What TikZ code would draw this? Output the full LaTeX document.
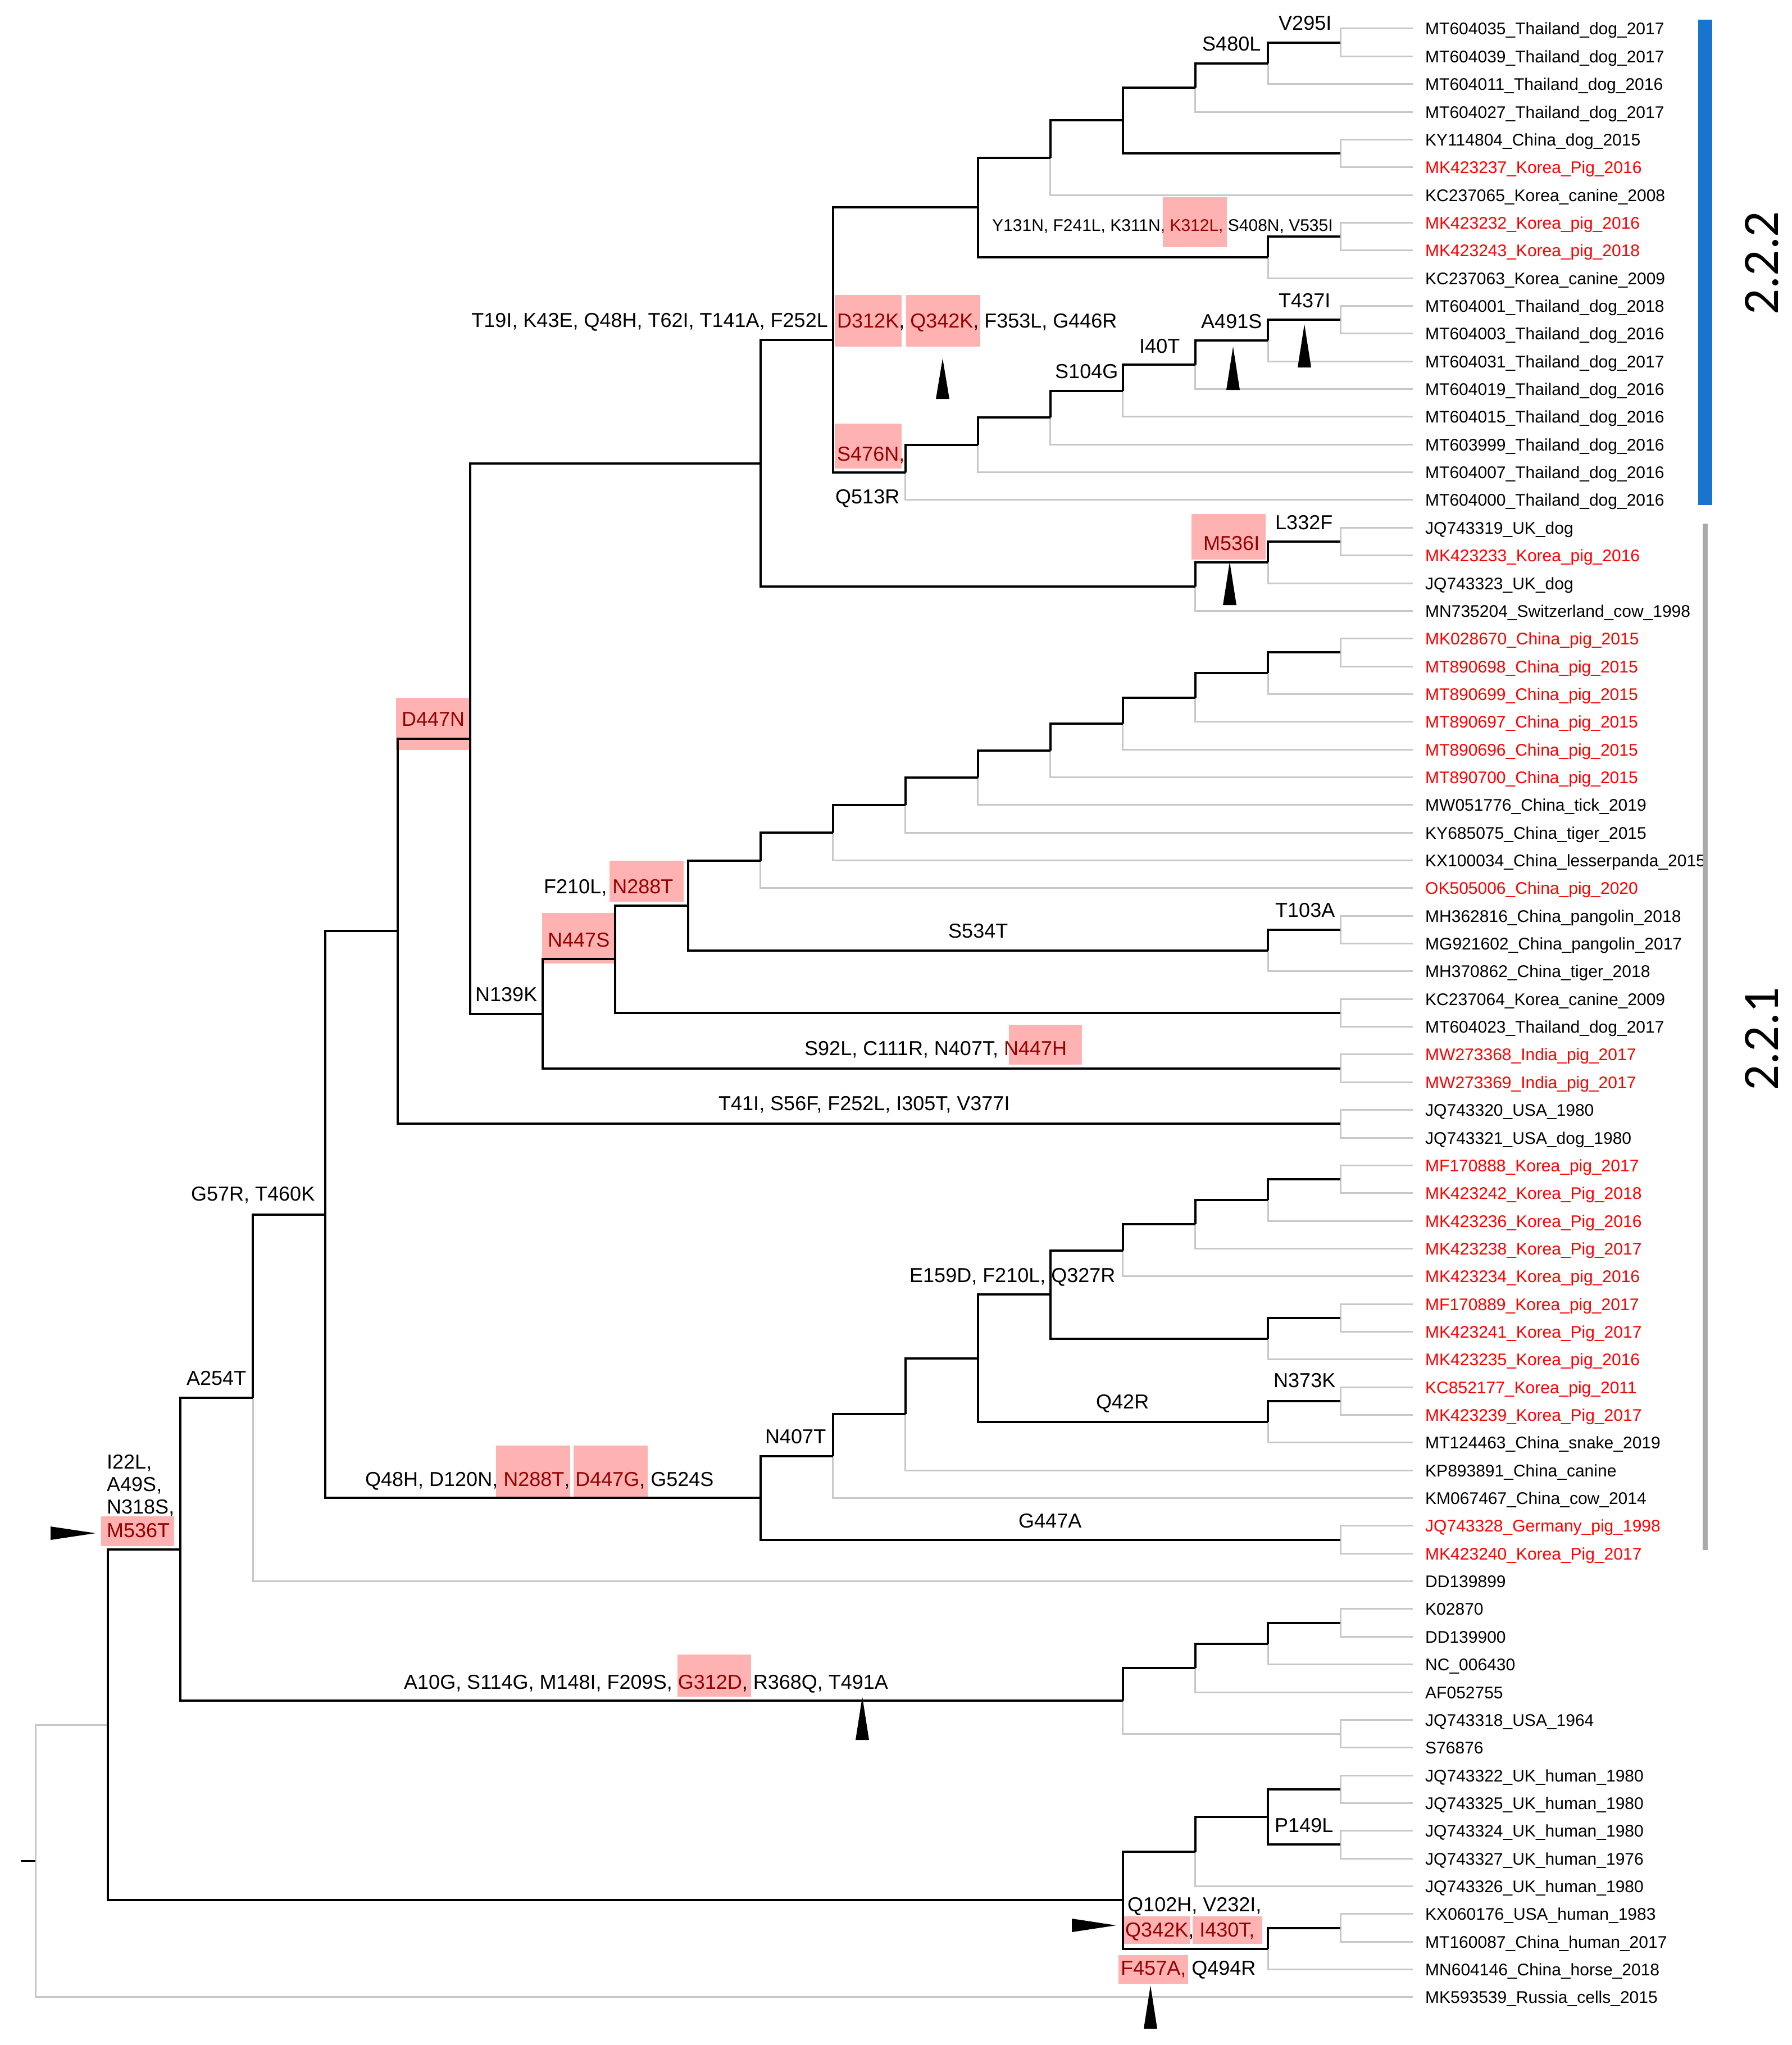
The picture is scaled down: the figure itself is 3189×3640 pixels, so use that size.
\documentclass[tikz,border=0pt]{standalone}
\usepackage{fontspec}
\setmainfont{Liberation Sans}
\newfontfamily\clfont{Carlito}
\usetikzlibrary{calc}
\definecolor{treegray}{RGB}{200,200,200}
\definecolor{hlfill}{RGB}{255,178,178}
\definecolor{hlred}{RGB}{150,0,0}
\definecolor{leafred}{RGB}{255,0,0}
\definecolor{barblue}{RGB}{24,116,205}
\definecolor{bargray}{RGB}{170,170,170}
\newcommand\tn[4]{\coordinate (mid) at ($(#3)!0.5!(#4)$);\coordinate (#1) at (K#2 |- mid);}
\newcommand\uptri[3]{\fill[black] ({#1-12},#3) -- (#1,#2) -- ({#1+12},#3) -- cycle;}
\begin{document}
\begin{tikzpicture}[x=1pt,y=-1pt,
  blk/.style={draw=black,line width=4pt},
  gry/.style={draw=treegray,line width=3pt},
  mut/.style={inner sep=0pt,anchor=base west,font=\fontsize{36}{40}\selectfont},
  mutE/.style={mut,anchor=base east},
  leaf/.style={inner sep=0pt,anchor=base west,font=\fontsize{30}{34}\selectfont}]
\fill[white] (0,0) rectangle (3189,3640);
\useasboundingbox (0,0) rectangle (3189,3640);
% levels and leaves
\foreach \k in {0,...,18} \coordinate (K\k) at ({63+129.06*\k},0);
\foreach \i in {1,...,72} \coordinate (L\i) at (2515,{51+(\i-1)*49.35});
% pairs
\foreach \a/\b in {1/2,5/6,8/9,11/12,19/20,23/24,33/34,36/37,38/39,40/41,42/43,47/48,50/51,55/56,58/59,62/63,64/65,66/67,69/70}
  {\tn{P\a}{18}{L\a}{L\b}}
% top clade
\tn{Ta}{17}{P1}{L3}
\tn{Tb}{16}{Ta}{L4}
\tn{Tc}{15}{Tb}{P5}
\tn{Td}{14}{Tc}{L7}
\tn{Ty}{17}{P8}{L10}
\tn{Te}{13}{Td}{Ty}
\tn{Sa}{17}{P11}{L13}
\tn{Sb}{16}{Sa}{L14}
\tn{Sc}{15}{Sb}{L15}
\tn{Sd}{14}{Sc}{L16}
\tn{Se}{13}{Sd}{L17}
\tn{Sf}{12}{Se}{L18}
\tn{Tf}{11}{Te}{Sf}
\tn{Ca}{17}{P19}{L21}
\tn{Cb}{16}{Ca}{L22}
\tn{Tg}{10}{Tf}{Cb}
% middle clade
\tn{Ma}{17}{P23}{L25}
\tn{Mb}{16}{Ma}{L26}
\tn{Mc}{15}{Mb}{L27}
\tn{Md}{14}{Mc}{L28}
\tn{Me}{13}{Md}{L29}
\tn{Mf}{12}{Me}{L30}
\tn{Mg}{11}{Mf}{L31}
\tn{Mh}{10}{Mg}{L32}
\tn{Mt}{17}{P33}{L35}
\tn{Mi}{9}{Mh}{Mt}
\tn{Mj}{8}{Mi}{P36}
\tn{Mk}{7}{Mj}{P38}
\tn{N6}{6}{Tg}{Mk}
\tn{N5}{5}{N6}{P40}
% Q clade
\tn{Qa}{17}{P42}{L44}
\tn{Qb}{16}{Qa}{L45}
\tn{Qc}{15}{Qb}{L46}
\tn{Qs}{17}{P47}{L49}
\tn{Qd}{14}{Qc}{Qs}
\tn{Qr}{17}{P50}{L52}
\tn{Qe}{13}{Qd}{Qr}
\tn{Qf}{12}{Qe}{L53}
\tn{Qg}{11}{Qf}{L54}
\tn{Qh}{10}{Qg}{P55}
\tn{N4}{4}{N5}{Qh}
\tn{N3}{3}{N4}{L57}
% A clade
\tn{Aa}{17}{P58}{L60}
\tn{Ab}{16}{Aa}{L61}
\tn{Ac}{15}{Ab}{P62}
\tn{N2}{2}{N3}{Ac}
% human clade
\tn{Ha}{17}{P64}{P66}
\tn{Hb}{16}{Ha}{L68}
\tn{Hc}{17}{P69}{L71}
\tn{Hd}{15}{Hb}{Hc}
\tn{N1}{1}{N2}{Hd}
\tn{R0}{0}{N1}{L72}
\coordinate (RS) at ($(R0)+(-26,0)$);
% highlight boxes
\foreach \xa/\ya/\xb/\yb in {2070/351/2184/440,1486/525/1605/617,1613/525/1745/617,1486/754/1605/834,2121/915/2253/996,705/1242/836/1335,1085/1532/1217/1605,965/1625/1094/1715,1796/1824/1926/1895,883/2573/1015/2666,1021/2573/1153/2666,180/2699/310/2752,1206/2945/1337/3020,1997/3411/2119/3460,2123/3411/2247/3460,1991/3480/2115/3531}
  {\fill[hlfill] (\xa,\ya) rectangle (\xb,\yb);}
% gray edges
\foreach \p/\c in {P1/L1,P1/L2,Ta/L3,Tb/L4,P5/L5,P5/L6,Td/L7,P8/L8,P8/L9,Ty/L10,P11/L11,P11/L12,Sa/L13,Sb/L14,Sc/L15,Sd/L16,Se/L17,Sf/L18,P19/L19,P19/L20,Ca/L21,Cb/L22,P23/L23,P23/L24,Ma/L25,Mb/L26,Mc/L27,Md/L28,Me/L29,Mf/L30,Mg/L31,Mh/L32,P33/L33,P33/L34,Mt/L35,P36/L36,P36/L37,P38/L38,P38/L39,P40/L40,P40/L41,P42/L42,P42/L43,Qa/L44,Qb/L45,Qc/L46,P47/L47,P47/L48,Qs/L49,P50/L50,P50/L51,Qr/L52,Qf/L53,Qg/L54,P55/L55,P55/L56,N3/L57,P58/L58,P58/L59,Aa/L60,Ab/L61,Ac/P62,P62/L62,P62/L63,P64/L64,P64/L65,P66/L66,P66/L67,Hb/L68,P69/L69,P69/L70,Hc/L71,R0/L72,R0/N1}
  {\draw[gry] (\p) |- (\c);}
% black edges
\foreach \p/\c in {Ta/P1,Tb/Ta,Tc/Tb,Tc/P5,Td/Tc,Ty/P8,Te/Td,Te/Ty,Sa/P11,Sb/Sa,Sc/Sb,Sd/Sc,Se/Sd,Sf/Se,Tf/Te,Tf/Sf,Ca/P19,Cb/Ca,Tg/Tf,Tg/Cb,Ma/P23,Mb/Ma,Mc/Mb,Md/Mc,Me/Md,Mf/Me,Mg/Mf,Mh/Mg,Mt/P33,Mi/Mh,Mi/Mt,Mj/Mi,Mj/P36,Mk/Mj,Mk/P38,N6/Tg,N6/Mk,N5/N6,N5/P40,Qa/P42,Qb/Qa,Qc/Qb,Qs/P47,Qd/Qc,Qd/Qs,Qr/P50,Qe/Qd,Qe/Qr,Qf/Qe,Qg/Qf,Qh/Qg,Qh/P55,N4/N5,N4/Qh,N3/N4,Aa/P58,Ab/Aa,Ac/Ab,N2/N3,N2/Ac,Ha/P64,Ha/P66,Hb/Ha,Hc/P69,Hd/Hb,Hd/Hc,N1/N2,N1/Hd}
  {\draw[blk] (\p) |- (\c);}
\draw[black,line width=3pt] (RS) -- (R0);
% leaf labels
\foreach \i/\lab/\col in {
1/MT604035\_Thailand\_dog\_2017/black,
2/MT604039\_Thailand\_dog\_2017/black,
3/MT604011\_Thailand\_dog\_2016/black,
4/MT604027\_Thailand\_dog\_2017/black,
5/KY114804\_China\_dog\_2015/black,
6/MK423237\_Korea\_Pig\_2016/leafred,
7/KC237065\_Korea\_canine\_2008/black,
8/MK423232\_Korea\_pig\_2016/leafred,
9/MK423243\_Korea\_pig\_2018/leafred,
10/KC237063\_Korea\_canine\_2009/black,
11/MT604001\_Thailand\_dog\_2018/black,
12/MT604003\_Thailand\_dog\_2016/black,
13/MT604031\_Thailand\_dog\_2017/black,
14/MT604019\_Thailand\_dog\_2016/black,
15/MT604015\_Thailand\_dog\_2016/black,
16/MT603999\_Thailand\_dog\_2016/black,
17/MT604007\_Thailand\_dog\_2016/black,
18/MT604000\_Thailand\_dog\_2016/black,
19/JQ743319\_UK\_dog/black,
20/MK423233\_Korea\_pig\_2016/leafred,
21/JQ743323\_UK\_dog/black,
22/MN735204\_Switzerland\_cow\_1998/black,
23/MK028670\_China\_pig\_2015/leafred,
24/MT890698\_China\_pig\_2015/leafred,
25/MT890699\_China\_pig\_2015/leafred,
26/MT890697\_China\_pig\_2015/leafred,
27/MT890696\_China\_pig\_2015/leafred,
28/MT890700\_China\_pig\_2015/leafred,
29/MW051776\_China\_tick\_2019/black,
30/KY685075\_China\_tiger\_2015/black,
31/KX100034\_China\_lesserpanda\_2015/black,
32/OK505006\_China\_pig\_2020/leafred,
33/MH362816\_China\_pangolin\_2018/black,
34/MG921602\_China\_pangolin\_2017/black,
35/MH370862\_China\_tiger\_2018/black,
36/KC237064\_Korea\_canine\_2009/black,
37/MT604023\_Thailand\_dog\_2017/black,
38/MW273368\_India\_pig\_2017/leafred,
39/MW273369\_India\_pig\_2017/leafred,
40/JQ743320\_USA\_1980/black,
41/JQ743321\_USA\_dog\_1980/black,
42/MF170888\_Korea\_pig\_2017/leafred,
43/MK423242\_Korea\_Pig\_2018/leafred,
44/MK423236\_Korea\_Pig\_2016/leafred,
45/MK423238\_Korea\_Pig\_2017/leafred,
46/MK423234\_Korea\_pig\_2016/leafred,
47/MF170889\_Korea\_pig\_2017/leafred,
48/MK423241\_Korea\_Pig\_2017/leafred,
49/MK423235\_Korea\_pig\_2016/leafred,
50/KC852177\_Korea\_pig\_2011/leafred,
51/MK423239\_Korea\_Pig\_2017/leafred,
52/MT124463\_China\_snake\_2019/black,
53/KP893891\_China\_canine/black,
54/KM067467\_China\_cow\_2014/black,
55/JQ743328\_Germany\_pig\_1998/leafred,
56/MK423240\_Korea\_Pig\_2017/leafred,
57/DD139899/black,
58/K02870/black,
59/DD139900/black,
60/NC\_006430/black,
61/AF052755/black,
62/JQ743318\_USA\_1964/black,
63/S76876/black,
64/JQ743322\_UK\_human\_1980/black,
65/JQ743325\_UK\_human\_1980/black,
66/JQ743324\_UK\_human\_1980/black,
67/JQ743327\_UK\_human\_1976/black,
68/JQ743326\_UK\_human\_1980/black,
69/KX060176\_USA\_human\_1983/black,
70/MT160087\_China\_human\_2017/black,
71/MN604146\_China\_horse\_2018/black,
72/MK593539\_Russia\_cells\_2015/black}
  {\node[leaf,text=\col] (t\i) at ($(L\i)+(22,11)$) {\lab};}
% mutation labels
\node[mut] (m1) at (2276,53) {V295I};
\node[mut] (m2) at (2140,90) {S480L};
\node[mut,font=\fontsize{30}{34}\selectfont] (m3) at (1766,411) {Y131N, F241L, K311N\textcolor{hlred}{, K312L,} S408N, V535I};
\node[mutE] (m4) at (1474,582) {T19I, K43E, Q48H, T62I, T141A, F252L};
\node[mut] (m5) at (1490,583) {\textcolor{hlred}{D312K}, \textcolor{hlred}{Q342K}, F353L, G446R};
\node[mut] (m6) at (1490,820) {\textcolor{hlred}{S476N,}};
\node[mut] (m7) at (1487,896) {Q513R};
\node[mut] (m8) at (1878,673) {S104G};
\node[mut] (m9) at (2028,628) {I40T};
\node[mut] (m10) at (2138,584) {A491S};
\node[mut] (m11) at (2276,547) {T437I};
\node[mut] (m12) at (2142,979) {\textcolor{hlred}{M536I}};
\node[mut] (m13) at (2270,942) {L332F};
\node[mut] (m14) at (715,1292) {\textcolor{hlred}{D447N}};
\node[mut] (m15) at (968,1590) {F210L, \textcolor{hlred}{N288T}};
\node[mut] (m16) at (975,1685) {\textcolor{hlred}{N447S}};
\node[mut] (m17) at (846,1782) {N139K};
\node[mut] (m18) at (1688,1669) {S534T};
\node[mut] (m19) at (2270,1632) {T103A};
\node[mut] (m20) at (1432,1878) {S92L, C111R, N407T, \textcolor{hlred}{N447H}};
\node[mut] (m21) at (1279,1976) {T41I, S56F, F252L, I305T, V377I};
\node[mut] (m22) at (340,2137) {G57R, T460K};
\node[mut] (m23) at (332,2465) {A254T};
\node[mut] (m24) at (650,2645) {Q48H, D120N, \textcolor{hlred}{N288T}, \textcolor{hlred}{D447G}, G524S};
\node[mut] (m25) at (1362,2569) {N407T};
\node[mut] (m26) at (1619,2282) {E159D, F210L, Q327R};
\node[mut] (m27) at (1951,2507) {Q42R};
\node[mut] (m28) at (2267,2469) {N373K};
\node[mut] (m29) at (1813,2719) {G447A};
\node[mut] (m30a) at (190,2614) {I22L,};
\node[mut] (m30b) at (190,2654) {A49S,};
\node[mut] (m30c) at (190,2694) {N318S,};
\node[mut] (m30d) at (190,2736) {\textcolor{hlred}{M536T}};
\node[mut] (m31) at (719,3006) {A10G, S114G, M148I, F209S, \textcolor{hlred}{G312D}, R368Q, T491A};
\node[mut] (m32) at (2007,3402) {Q102H, V232I,};
\node[mut] (m33) at (2003,3447) {\textcolor{hlred}{Q342K}, \textcolor{hlred}{I430T,}};
\node[mut] (m34) at (1995,3515) {\textcolor{hlred}{F457A,} Q494R};
\node[mut] (m35) at (2269,3261) {P149L};
% arrowheads
\uptri{1678}{638}{710}
\uptri{2195}{617}{694}
\uptri{2322}{577}{654}
\uptri{2189}{1000}{1077}
\uptri{1535}{3020}{3097}
\uptri{2048}{3534}{3611}
\fill[black] (90,2717) -- (170,2729) -- (90,2741) -- cycle;
\fill[black] (1908,3415) -- (1987,3427) -- (1908,3439) -- cycle;
% clade bars
\fill[barblue] (3023,35) rectangle (3048,899);
\fill[bargray] (3031,932) rectangle (3040,2759);
\node[inner sep=0pt,rotate=90,font=\clfont\fontsize{91}{91}\selectfont] (c222) at (3136,468) {2.2.2};
\node[inner sep=0pt,rotate=90,font=\clfont\fontsize{91}{91}\selectfont] (c221) at (3136,1849) {2.2.1};
\end{tikzpicture}
\end{document}
